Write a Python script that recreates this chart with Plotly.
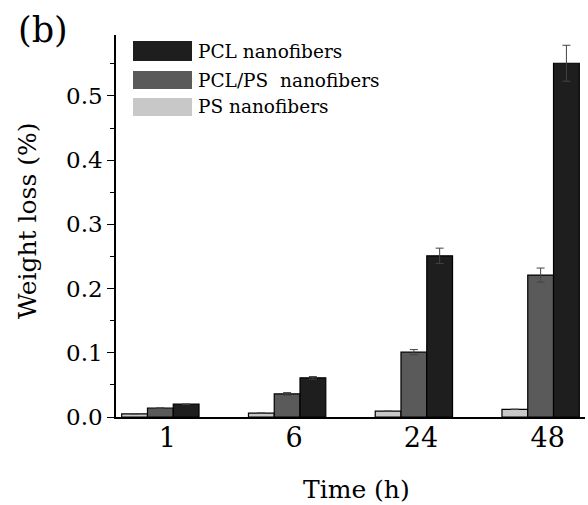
import plotly.graph_objects as go

times = ["1", "6", "24", "48"]
series_names = ["PS nanofibers", "PCL/PS  nanofibers", "PCL nanofibers"]
ps_vals = [0.005, 0.006, 0.009, 0.012]
pclps_vals = [0.014, 0.036, 0.101, 0.221]
pcl_vals = [0.020, 0.061, 0.251, 0.551]
ps_err = [0.0, 0.0, 0.0, 0.0]
pclps_err = [0.0, 0.002, 0.004, 0.011]
pcl_err = [0.0, 0.002, 0.012, 0.028]

colors = ["#c8c8c8", "#5a5a5a", "#1e1e1e"]
FONT = "DejaVu Serif"

fig = go.Figure()
for name, vals, err, col in zip(series_names, [ps_vals, pclps_vals, pcl_vals],
                                [ps_err, pclps_err, pcl_err], colors):
    fig.add_trace(go.Bar(
        x=times, y=vals, name=name,
        marker=dict(color=col, line=dict(color="black", width=1.2)),
        error_y=dict(type="data", array=err, visible=True, color="#444444",
                     thickness=1, width=4),
        showlegend=False,
    ))

W, H = 588, 505
L, R, T, B = 116, 3, 35, 88
pw, ph = W - L - R, H - T - B

def px(x):
    return (x - L) / pw

def py(y):
    return (H - B - y) / ph

# manual legend (order top to bottom: PCL, PCL/PS, PS)
shapes = []
annotations = []
legend_rows = [(41, 61), (71, 89), (98, 116)]
for (y0, y1), name, col in zip(legend_rows, series_names[::-1], colors[::-1]):
    shapes.append(dict(type="rect", xref="paper", yref="paper",
                       x0=px(133), x1=px(192), y0=py(y1), y1=py(y0),
                       fillcolor=col, line=dict(width=0)))
    annotations.append(dict(xref="paper", yref="paper", x=px(196), y=py((y0 + y1) / 2),
                            text=name, showarrow=False, xanchor="left", yanchor="middle",
                            font=dict(family=FONT, size=18.5, color="black")))

annotations.append(dict(xref="paper", yref="paper", x=px(16), y=py(30),
                        text="(b)", showarrow=False, xanchor="left", yanchor="middle",
                        font=dict(family=FONT, size=35, color="black")))
annotations.append(dict(xref="paper", yref="paper", x=px(356), y=py(489),
                        text="Time (h)", showarrow=False, xanchor="center", yanchor="middle",
                        font=dict(family=FONT, size=25, color="black")))
annotations.append(dict(xref="paper", yref="paper", x=px(27), y=py(221),
                        text="Weight loss (%)", showarrow=False, xanchor="center",
                        yanchor="middle", textangle=-90,
                        font=dict(family=FONT, size=25, color="black")))

fig.update_layout(
    width=W, height=H,
    margin=dict(l=L, r=R, t=T, b=B),
    paper_bgcolor="white", plot_bgcolor="white",
    barmode="group", bargap=0.39, bargroupgap=0,
    font=dict(family=FONT, color="black"),
    shapes=shapes, annotations=annotations,
    xaxis=dict(
        range=[-0.35, 3.35], showline=True, linecolor="black", linewidth=1.5,
        ticks="", tickfont=dict(size=27), showgrid=False,
        ticklabelstandoff=-4, ticklabelshift=7,
    ),
    yaxis=dict(
        range=[0, 0.595], showline=True, linecolor="black", linewidth=1.5,
        ticks="outside", ticklen=7, tickwidth=1.2, tickcolor="black",
        dtick=0.1, tickformat=".1f", tickfont=dict(size=23), showgrid=False,
        zeroline=False,
        minor=dict(dtick=0.05, ticks="outside", ticklen=4, tickcolor="black", tickwidth=1),
    ),
)

fig.write_html("out.html")
